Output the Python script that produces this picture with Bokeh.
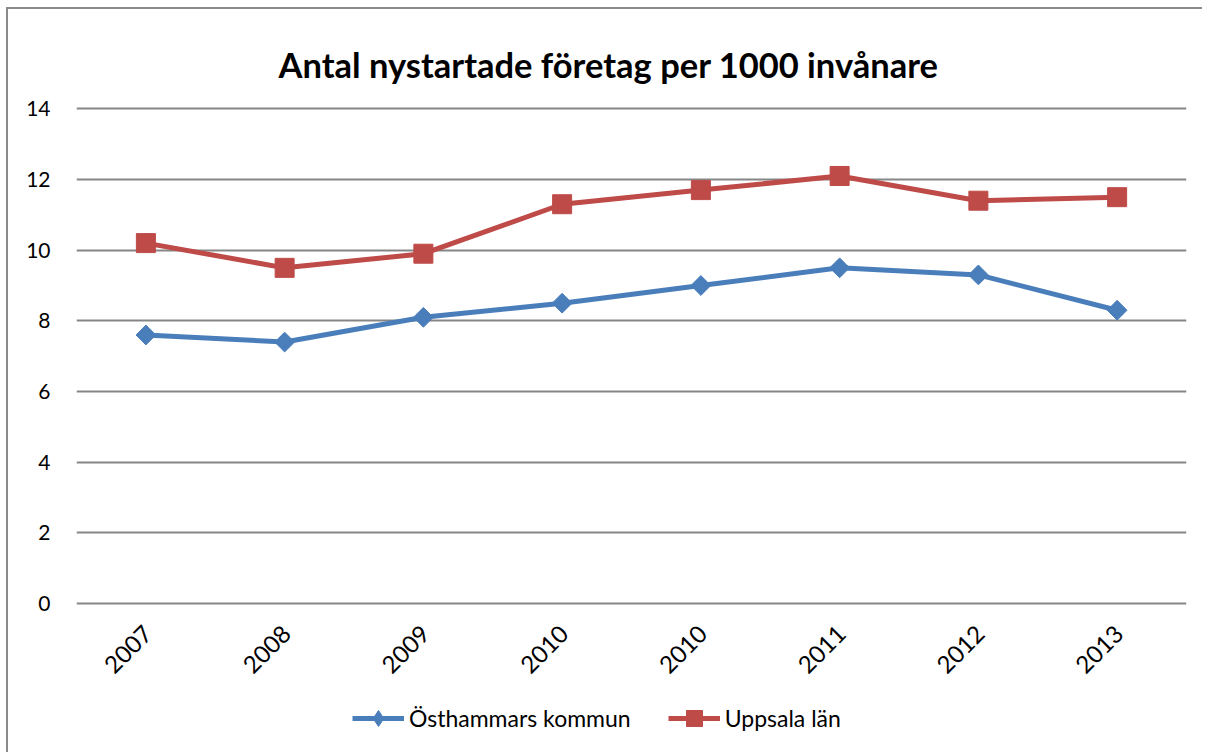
import math
from bokeh.plotting import figure
from bokeh.models import (ColumnDataSource, Legend, LegendItem, FixedTicker,
                          Range1d, Label)
from bokeh.core.properties import value
from bokeh.embed import file_html
from bokeh.resources import INLINE

title = "Antal nystartade företag per 1000 invånare"
years = ["2007", "2008", "2009", "2010", "2010", "2011", "2012", "2013"]
osthammar = [7.6, 7.4, 8.1, 8.5, 9.0, 9.5, 9.3, 8.3]
uppsala = [10.2, 9.5, 9.9, 11.3, 11.7, 12.1, 11.4, 11.5]
y_ticks = [0, 2, 4, 6, 8, 10, 12, 14]

xpos = [i + 0.5 for i in range(len(years))]
src = ColumnDataSource(dict(x=xpos, a=osthammar, b=uppsala,
                            lab=years, base=[0] * len(years)))

FONT = "Lato"
BLUE = "#4A7EBB"
RED = "#BE4B48"

# frame spans the whole figure height so title/legend can live inside it
p = figure(width=1196, height=745, output_backend="svg", toolbar_location=None,
           x_range=Range1d(0, len(years)), y_range=Range1d(-4.27, 16.81),
           min_border_left=68, min_border_right=18, min_border_top=0,
           min_border_bottom=0)
p.styles = {"border-left": "2px solid #8a8a8a", "border-top": "2px solid #8a8a8a",
            "margin-left": "6px", "margin-top": "7px"}

p.add_layout(Label(x=3.835, y=15.245, text=title, text_align="center",
                   text_baseline="alphabetic", text_font=FONT,
                   text_font_size="34.5px", text_font_style="bold",
                   text_color="#000000"))

p.outline_line_color = None
p.xgrid.grid_line_color = None
p.ygrid.grid_line_color = "#868686"
p.ygrid.grid_line_width = 2
p.ygrid.ticker = FixedTicker(ticks=y_ticks)

p.yaxis.ticker = FixedTicker(ticks=y_ticks)
p.yaxis.axis_line_color = None
p.yaxis.major_tick_line_color = None
p.yaxis.minor_tick_line_color = None
p.yaxis.major_tick_out = 0
p.yaxis.major_tick_in = 0
p.yaxis.major_label_text_font = FONT
p.yaxis.major_label_text_font_size = "21px"
p.yaxis.major_label_text_color = "#000000"
p.yaxis.major_label_standoff = 26

p.xaxis.visible = False

# category labels, rotated 45 degrees, hanging below the zero line
p.text(x="x", y="base", text="lab", source=src, angle=math.pi / 4,
       text_align="right", text_baseline="top", x_offset=-4, y_offset=20,
       text_font=value(FONT), text_font_size="24px", text_color="#000000")

la = p.line("x", "a", source=src, line_color=BLUE, line_width=5)
ma = p.scatter("x", "a", source=src, marker="square", angle=math.pi / 4,
               size=14, fill_color=BLUE, line_color=BLUE)
lb = p.line("x", "b", source=src, line_color=RED, line_width=5)
mb = p.scatter("x", "b", source=src, marker="square", size=19,
               fill_color=RED, line_color=RED)

# renderer without drawable points, only used for the diamond legend symbol
ma_leg = p.scatter(x=[math.nan], y=[math.nan], marker="diamond", size=20,
                   fill_color=BLUE, line_color=BLUE)

legend = Legend(items=[LegendItem(label="Östhammars kommun", renderers=[la, ma_leg]),
                       LegendItem(label="Uppsala län", renderers=[lb, mb])],
                orientation="horizontal", location=(276, 16),
                glyph_width=52, glyph_height=40, label_standoff=5, spacing=37,
                padding=0, margin=0, border_line_color=None,
                background_fill_alpha=0,
                label_text_font=FONT, label_text_font_size="23px",
                label_text_color="#000000")
p.add_layout(legend, "center")

open("out.html", "w").write(file_html(p, INLINE))
